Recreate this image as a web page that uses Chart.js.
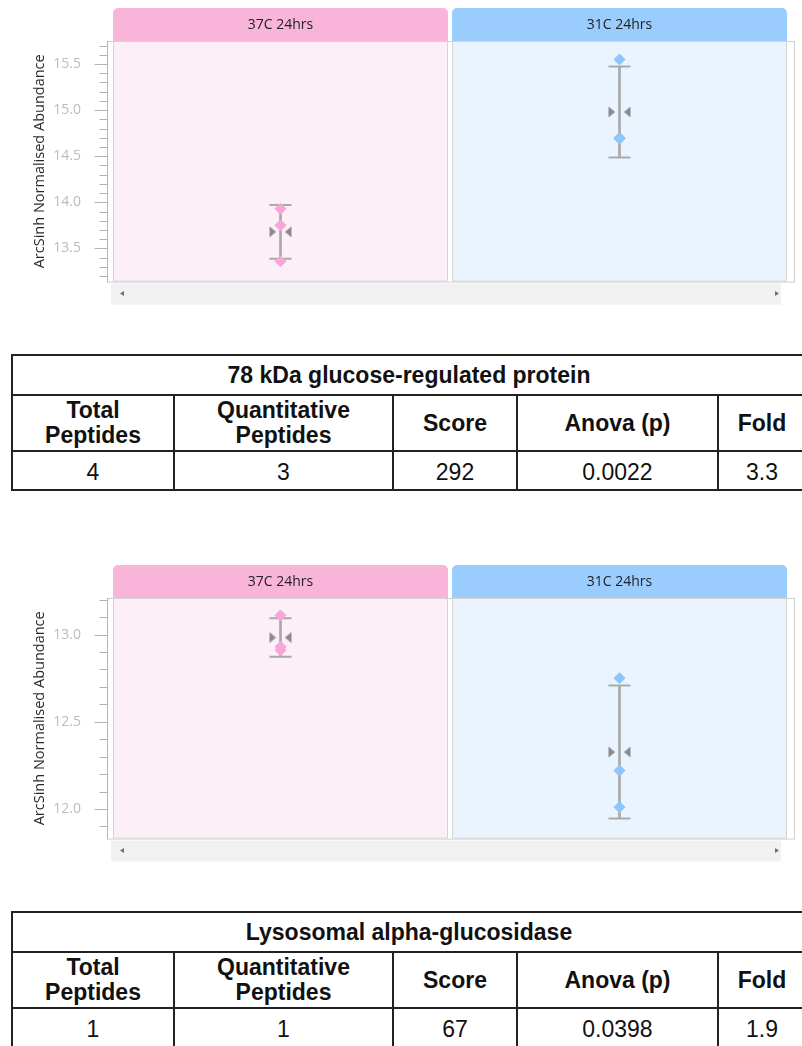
<!DOCTYPE html>
<html>
<head>
<meta charset="utf-8">
<script src="https://cdn.jsdelivr.net/npm/chart.js@4.4.1/dist/chart.umd.min.js"></script>
<style>
  html, body { margin: 0; padding: 0; background: #fff; overflow: hidden; width: 802px; height: 1046px; }
  .block { position: relative; width: 802px; height: 557px; }
  .block canvas { position: absolute; left: 0; top: 0; }
  table.stats { position: absolute; top: 354px; left: 11px; width: 794px; border-collapse: collapse; table-layout: fixed;
    font-family: "Liberation Sans", Arial, sans-serif; color: #111; }
  table.stats td { border: 2px solid #222; text-align: center; padding: 0; }
  table.stats .title td { height: 38px; font-size: 23px; font-weight: bold; }
  table.stats .head td { height: 54px; font-size: 23px; font-weight: bold; line-height: 25px; white-space: pre-line; }
  table.stats .vals td { height: 34px; font-size: 23px; padding-top: 3px; }
</style>
</head>
<body>
<div class="block">
  <canvas id="chartGrp78" width="802" height="320"></canvas>
  <table class="stats" id="tableGrp78"></table>
</div>
<div class="block">
  <canvas id="chartGaa" width="802" height="320"></canvas>
  <table class="stats" id="tableGaa"></table>
</div>
<script>
// conditions (panels)
const conditions = ['37C 24hrs', '31C 24hrs'];

// 78 kDa glucose-regulated protein - replicate abundances
const grp78_37C = [13.93, 13.75, 13.36];
const grp78_31C = [15.55, 14.70, 14.69];
const grp78Ticks = [13.5, 14.0, 14.5, 15.0, 15.5];
const grp78Range = [13.14, 15.75];

// Lysosomal alpha-glucosidase - replicate abundances
const gaa_37C = [13.11, 12.93, 12.91];
const gaa_31C = [12.75, 12.22, 12.01];
const gaaTicks = [12.0, 12.5, 13.0];
const gaaRange = [11.83, 13.21];

// table contents
const tableHeaders = ['Total\nPeptides', 'Quantitative\nPeptides', 'Score', 'Anova (p)', 'Fold'];
const grp78Stats = ['4', '3', '292', '0.0022', '3.3'];
const gaaStats = ['1', '1', '67', '0.0398', '1.9'];

const headerColors = ['#f9b4da', '#9acdfd'];
const panelColors = ['#fdeff7', '#eaf4fe'];
const pointColors = ['#f7a6d5', '#8cc6fc'];
const barGrey = '#a9a9a9';

function mean(a) { return a.reduce((s, v) => s + v, 0) / a.length; }
function sd(a) {
    const m = mean(a);
    return Math.sqrt(a.reduce((s, v) => s + (v - m) * (v - m), 0) / (a.length - 1));
}

// mean marker: two grey triangles pointing at the bar
const meanMarker = (function() {
    const c = document.createElement('canvas');
    c.width = 24; c.height = 14;
    const g = c.getContext('2d');
    g.fillStyle = '#8a8a8a';
    g.beginPath();
    g.moveTo(1, 1.5); g.lineTo(7.5, 7); g.lineTo(1, 12.5); g.closePath();
    g.moveTo(23, 1.5); g.lineTo(16.5, 7); g.lineTo(23, 12.5); g.closePath();
    g.fill();
    return c;
})();

// panel backgrounds, headers, axis frame, minor ticks, scrollbar
const panelsPlugin = {
    id: 'panels',
    beforeDraw(chart) {
        const { ctx, chartArea: a, scales: { x, y } } = chart;
        const half = (a.right - a.left) / conditions.length / 2;
        ctx.save();

        // outer frame
        ctx.strokeStyle = '#cfcfcf';
        ctx.lineWidth = 1;
        ctx.strokeRect(a.left - 3.5, a.top + 0.5, a.right - a.left + 9, a.bottom - a.top);

        conditions.forEach((c, i) => {
            const cx = x.getPixelForValue(i);
            const l = cx - half + 2, r = cx + half - 2;
            ctx.fillStyle = panelColors[i];
            ctx.fillRect(l, a.top, r - l, a.bottom - a.top);
            ctx.strokeStyle = '#d4d4d4';
            ctx.strokeRect(l + 0.5, a.top + 0.5, r - l - 1, a.bottom - a.top - 1);

            // header tab with rounded top corners
            const top = a.top - 33;
            ctx.fillStyle = headerColors[i];
            ctx.beginPath();
            ctx.roundRect(l, top, r - l, 33, [5, 5, 0, 0]);
            ctx.fill();
            ctx.fillStyle = '#222';
            ctx.font = '14px "Open Sans"';
            ctx.textAlign = 'center';
            ctx.textBaseline = 'middle';
            ctx.fillText(c, cx, top + 17);
        });

        // y axis line and ticks
        const ax = a.left - 3.5;
        ctx.strokeStyle = '#b5b5b5';
        ctx.beginPath();
        ctx.moveTo(ax, a.top);
        ctx.lineTo(ax, a.bottom + 0.5);
        const start = Math.ceil(y.min * 10);
        const end = Math.floor(y.max * 10);
        for (let k = start; k <= end; k++) {
            const py = Math.round(y.getPixelForValue(k / 10)) + 0.5;
            const len = k % 5 === 0 ? 13 : 8;
            ctx.moveTo(ax - len, py);
            ctx.lineTo(ax, py);
        }
        ctx.stroke();

        // scrollbar strip
        const sy = a.bottom + 2;
        ctx.fillStyle = '#f1f1f1';
        ctx.fillRect(a.left, sy, a.right - a.left - 8, 21);
        ctx.fillStyle = '#6f6f6f';
        ctx.beginPath();
        ctx.moveTo(a.left + 9, sy + 10); ctx.lineTo(a.left + 13, sy + 7.5); ctx.lineTo(a.left + 13, sy + 12.5); ctx.closePath();
        ctx.moveTo(a.right - 10, sy + 10); ctx.lineTo(a.right - 14, sy + 7.5); ctx.lineTo(a.right - 14, sy + 12.5); ctx.closePath();
        ctx.fill();
        ctx.restore();
    }
};

function makeChart(id, series, ticks, range) {
    const means = series.map(mean);
    const sds = series.map(sd);
    const replicates = [];
    const repColors = [];
    series.forEach((vals, i) => vals.forEach(v => {
        replicates.push({ x: conditions[i], y: v });
        repColors.push(pointColors[i]);
    }));
    const caps = [];
    series.forEach((vals, i) => {
        caps.push({ x: conditions[i], y: means[i] - sds[i] });
        caps.push({ x: conditions[i], y: means[i] + sds[i] });
    });

    new Chart(document.getElementById(id), {
        type: 'bar',
        data: {
            labels: conditions,
            datasets: [
                {
                    type: 'bar',
                    data: means.map((m, i) => [m - sds[i], m + sds[i]]),
                    backgroundColor: barGrey,
                    borderWidth: 0,
                    barThickness: 2,
                    order: 4
                },
                {
                    type: 'line',
                    showLine: false,
                    data: caps,
                    pointStyle: 'line',
                    pointRadius: 11,
                    pointBorderWidth: 2,
                    pointBorderColor: barGrey,
                    order: 3
                },
                {
                    type: 'line',
                    showLine: false,
                    data: means.map((m, i) => ({ x: conditions[i], y: m })),
                    pointStyle: meanMarker,
                    order: 2
                },
                {
                    type: 'line',
                    showLine: false,
                    data: replicates,
                    pointStyle: 'rectRot',
                    pointRadius: 5.5,
                    pointBorderWidth: 1,
                    pointBackgroundColor: repColors,
                    pointBorderColor: repColors,
                    order: 1
                }
            ]
        },
        options: {
            responsive: false,
            animation: false,
            layout: { padding: { top: 41, bottom: 30, left: 0, right: 12 } },
            scales: {
                x: { display: false },
                y: {
                    min: range[0],
                    max: range[1],
                    afterBuildTicks: s => { s.ticks = ticks.map(v => ({ value: v })); },
                    afterFit: s => { s.width = 111; },
                    grid: { display: false, drawTicks: false },
                    border: { display: false },
                    ticks: {
                        padding: 30,
                        color: '#bcbcbc',
                        font: { family: 'Open Sans', size: 14 },
                        callback: v => Number(v).toFixed(1)
                    },
                    title: {
                        display: true,
                        text: 'ArcSinh Normalised Abundance',
                        color: '#2a2a2a',
                        font: { family: 'Open Sans', size: 14.5 },
                        padding: { top: 31, bottom: 0 }
                    }
                }
            },
            plugins: {
                legend: { display: false },
                tooltip: { enabled: false }
            }
        },
        plugins: [panelsPlugin]
    });
}

function makeTable(id, title, stats) {
    const t = document.getElementById(id);
    const widths = [162, 219, 124, 201, 88];
    let html = '<colgroup>' + widths.map(w => '<col style="width:' + w + 'px">').join('') + '</colgroup>';
    html += '<tr class="title"><td colspan="5">' + title + '</td></tr>';
    html += '<tr class="head">' + tableHeaders.map(h => '<td>' + h + '</td>').join('') + '</tr>';
    html += '<tr class="vals">' + stats.map(v => '<td>' + v + '</td>').join('') + '</tr>';
    t.innerHTML = html;
}

document.addEventListener('DOMContentLoaded', function() {
    makeChart('chartGrp78', [grp78_37C, grp78_31C], grp78Ticks, grp78Range);
    makeChart('chartGaa', [gaa_37C, gaa_31C], gaaTicks, gaaRange);
    makeTable('tableGrp78', '78 kDa glucose-regulated protein', grp78Stats);
    makeTable('tableGaa', 'Lysosomal alpha-glucosidase', gaaStats);
});
</script>
</body>
</html>
